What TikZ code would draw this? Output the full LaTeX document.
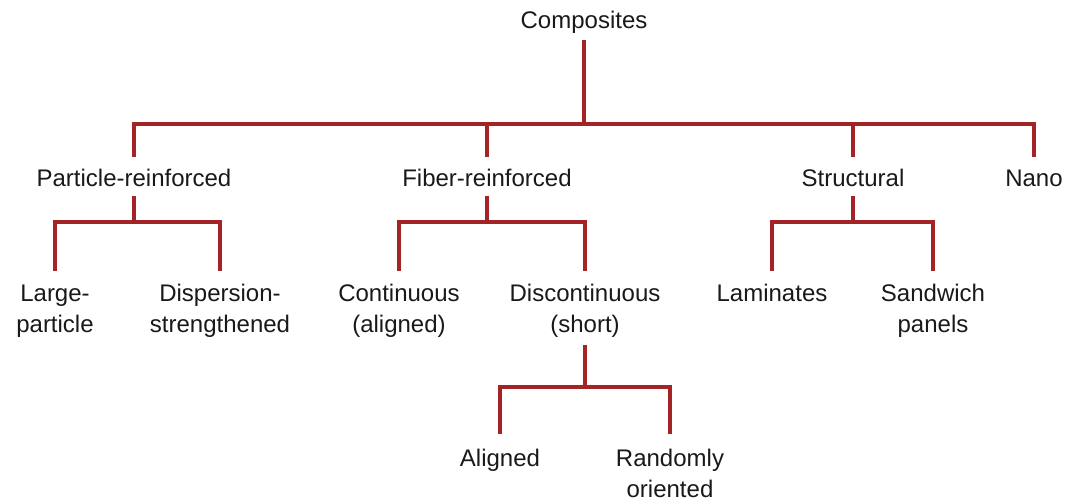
\documentclass[tikz,border=0pt]{standalone}
\usepackage{fontspec}
\setmainfont{Liberation Sans}
\definecolor{branch}{RGB}{163,35,38}
\definecolor{ink}{RGB}{25,25,25}
\begin{document}
\begin{tikzpicture}[x=1bp,y=-1bp,
  lbl/.style={anchor=north,inner sep=0pt,outer sep=0pt,align=center,text=ink,
    font=\fontsize{24bp}{31bp}\selectfont},
  conn/.style={draw=branch,line width=3.6bp,line join=miter}]
\useasboundingbox (0,0) rectangle (1069,503);
% level 0
\node[lbl] (comp) at (584,11.5) {Composites};
% level 1
\node[lbl] (pr) at (134,169.5) {Particle-reinforced};
\node[lbl] (fr) at (487,169.5) {Fiber-reinforced};
\node[lbl] (st) at (853,169.5) {Structural};
\node[lbl] (nano) at (1034,169.5) {Nano};
% level 2
\node[lbl] (lp) at (55,284.5) {Large-\\particle};
\node[lbl] (ds) at (220,284.5) {Dispersion-\\strengthened};
\node[lbl] (ca) at (399,284.5) {Continuous\\(aligned)};
\node[lbl] (dc) at (585,284.5) {Discontinuous\\(short)};
\node[lbl] (lam) at (772,284.5) {Laminates};
\node[lbl] (sw) at (933,284.5) {Sandwich\\panels};
% level 3
\node[lbl] (al) at (500,449.5) {Aligned};
\node[lbl] (ro) at (670,449.5) {Randomly\\oriented};
% junctions
\coordinate (j0) at (584,124);
\coordinate (j1) at (134,222);
\coordinate (j2) at (487,222);
\coordinate (j3) at (853,222);
\coordinate (j4) at (585,387);
% connectors
\draw[conn] (comp.north) ++(0,28.5) -- (j0);
\foreach \c in {pr,fr,st,nano}{\draw[conn] (\c.north) ++(0,-12.5) |- (j0);}
\draw[conn] (pr.north) ++(0,26.5) -- (j1);
\foreach \c in {lp,ds}{\draw[conn] (\c.north) ++(0,-13.5) |- (j1);}
\draw[conn] (fr.north) ++(0,26.5) -- (j2);
\foreach \c in {ca,dc}{\draw[conn] (\c.north) ++(0,-13.5) |- (j2);}
\draw[conn] (st.north) ++(0,26.5) -- (j3);
\foreach \c in {lam,sw}{\draw[conn] (\c.north) ++(0,-13.5) |- (j3);}
\draw[conn] (dc.north) ++(0,60.5) -- (j4);
\foreach \c in {al,ro}{\draw[conn] (\c.north) ++(0,-15.5) |- (j4);}
\end{tikzpicture}
\end{document}
